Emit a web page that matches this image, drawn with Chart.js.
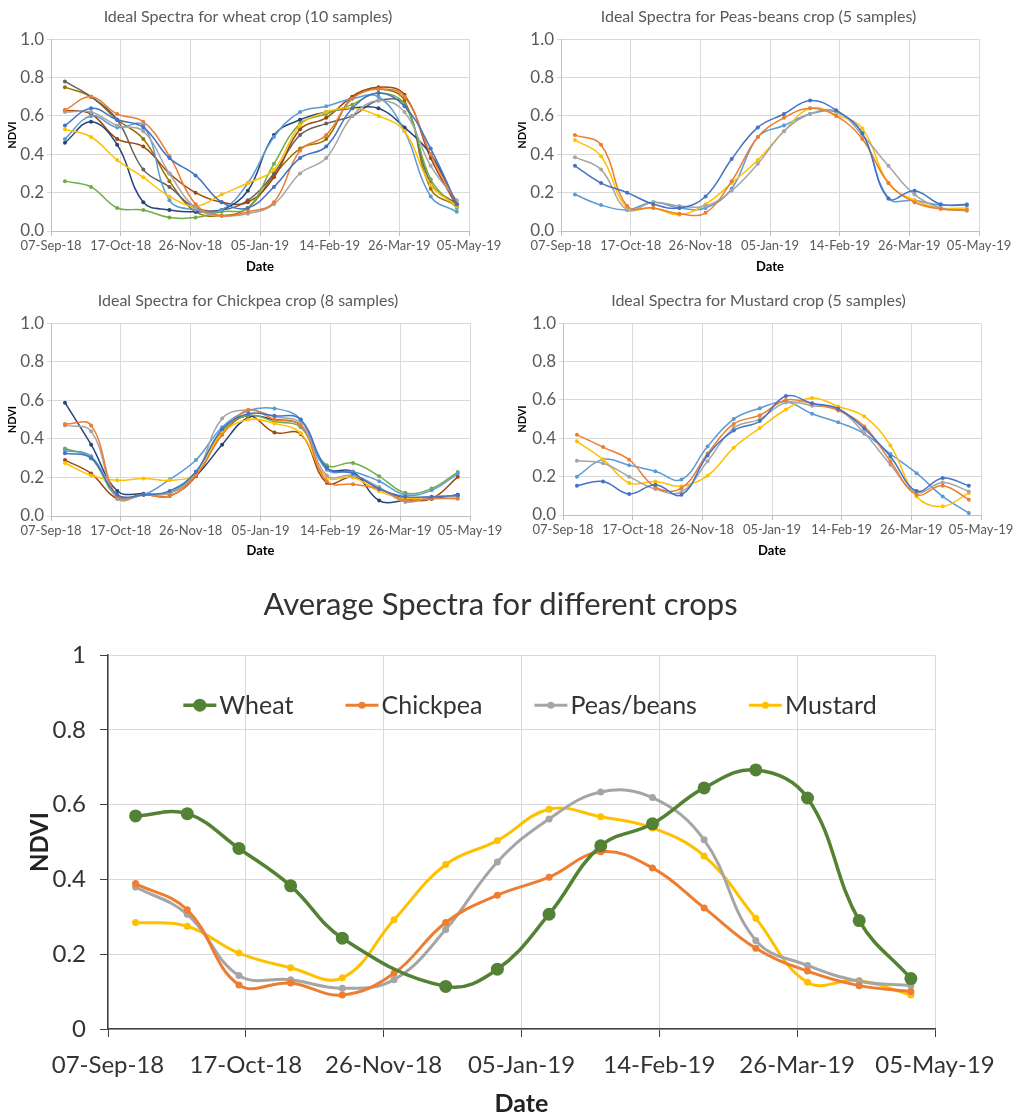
<!DOCTYPE html>
<html>
<head>
<meta charset="utf-8">
<script src="https://cdn.jsdelivr.net/npm/chart.js@4.4.1/dist/chart.umd.min.js"></script>
<style>
  body { margin: 0; background: #fff; width: 1021px; height: 1119px; position: relative; overflow: hidden; }
  .box { position: absolute; }
</style>
</head>
<body>
<div class="box" style="left:0;top:0"><canvas id="wheatChart" width="510" height="280"></canvas></div>
<div class="box" style="left:510px;top:0"><canvas id="peasChart" width="511" height="280"></canvas></div>
<div class="box" style="left:0;top:280px"><canvas id="chickpeaChart" width="510" height="280"></canvas></div>
<div class="box" style="left:510px;top:280px"><canvas id="mustardChart" width="511" height="280"></canvas></div>
<div class="box" style="left:0;top:580px"><canvas id="avgChart" width="1021" height="539"></canvas></div>
<script>
// acquisition dates (15-day revisit)
const sampleDates = ['2018-09-15', '2018-09-30', '2018-10-15', '2018-10-30', '2018-11-14', '2018-11-29',
  '2018-12-14', '2018-12-29', '2019-01-13', '2019-01-28', '2019-02-12', '2019-02-27',
  '2019-03-14', '2019-03-29', '2019-04-13', '2019-04-28'];
const startDate = '2018-09-07';
const tickLabels = ['07-Sep-18', '17-Oct-18', '26-Nov-18', '05-Jan-19', '14-Feb-19', '26-Mar-19', '05-May-19'];
const sampleColors = ['#4472C4', '#ED7D31', '#A5A5A5', '#FFC000', '#5B9BD5', '#70AD47', '#264478', '#9E480E', '#636363', '#997300'];

const wheatSamples = [
  [0.55, 0.64, 0.58, 0.54, 0.38, 0.29, 0.15, 0.12, 0.23, 0.38, 0.44, 0.64, 0.72, 0.65, 0.43, 0.14],
  [0.63, 0.70, 0.61, 0.57, 0.39, 0.14, 0.08, 0.10, 0.15, 0.42, 0.50, 0.69, 0.74, 0.70, 0.40, 0.14],
  [0.62, 0.62, 0.55, 0.52, 0.30, 0.12, 0.08, 0.09, 0.14, 0.30, 0.38, 0.60, 0.68, 0.62, 0.34, 0.16],
  [0.53, 0.49, 0.37, 0.28, 0.18, 0.13, 0.19, 0.25, 0.32, 0.55, 0.62, 0.64, 0.60, 0.52, 0.24, 0.13],
  [0.48, 0.60, 0.54, 0.55, 0.16, 0.11, 0.11, 0.25, 0.49, 0.62, 0.65, 0.69, 0.70, 0.52, 0.18, 0.10],
  [0.26, 0.23, 0.12, 0.11, 0.07, 0.07, 0.10, 0.12, 0.35, 0.56, 0.61, 0.66, 0.72, 0.66, 0.27, 0.12],
  [0.46, 0.57, 0.45, 0.15, 0.11, 0.10, 0.11, 0.21, 0.50, 0.58, 0.62, 0.64, 0.64, 0.54, 0.40, 0.14],
  [0.63, 0.61, 0.48, 0.44, 0.30, 0.20, 0.15, 0.15, 0.28, 0.53, 0.59, 0.70, 0.75, 0.71, 0.38, 0.13],
  [0.78, 0.70, 0.58, 0.32, 0.23, 0.12, 0.11, 0.16, 0.30, 0.50, 0.56, 0.60, 0.68, 0.66, 0.25, 0.14],
  [0.75, 0.70, 0.58, 0.48, 0.26, 0.10, 0.08, 0.12, 0.29, 0.43, 0.48, 0.70, 0.74, 0.68, 0.22, 0.13]
];
const peasSamples = [
  [0.34, 0.25, 0.20, 0.14, 0.12, 0.18, 0.375, 0.54, 0.61, 0.68, 0.63, 0.51, 0.17, 0.21, 0.14, 0.135],
  [0.50, 0.45, 0.13, 0.12, 0.09, 0.095, 0.26, 0.49, 0.59, 0.64, 0.60, 0.48, 0.25, 0.15, 0.115, 0.11],
  [0.385, 0.32, 0.11, 0.15, 0.13, 0.13, 0.21, 0.35, 0.52, 0.61, 0.625, 0.50, 0.34, 0.19, 0.12, 0.105],
  [0.475, 0.39, 0.12, 0.12, 0.085, 0.14, 0.25, 0.37, 0.52, 0.64, 0.605, 0.535, 0.25, 0.16, 0.12, 0.12],
  [0.19, 0.135, 0.11, 0.15, 0.12, 0.12, 0.22, 0.49, 0.55, 0.61, 0.62, 0.51, 0.17, 0.16, 0.135, 0.14]
];
const chickpeaSamples = [
  [0.325, 0.30, 0.11, 0.11, 0.13, 0.23, 0.45, 0.53, 0.52, 0.50, 0.25, 0.22, 0.14, 0.10, 0.10, 0.107],
  [0.477, 0.47, 0.10, 0.11, 0.104, 0.21, 0.42, 0.55, 0.50, 0.47, 0.18, 0.165, 0.14, 0.08, 0.09, 0.09],
  [0.47, 0.44, 0.09, 0.11, 0.12, 0.22, 0.506, 0.55, 0.515, 0.48, 0.21, 0.21, 0.15, 0.073, 0.10, 0.10],
  [0.275, 0.21, 0.185, 0.195, 0.185, 0.22, 0.43, 0.50, 0.48, 0.43, 0.20, 0.20, 0.128, 0.09, 0.10, 0.10],
  [0.34, 0.31, 0.105, 0.11, 0.19, 0.29, 0.46, 0.546, 0.558, 0.50, 0.24, 0.23, 0.18, 0.11, 0.133, 0.22],
  [0.35, 0.30, 0.10, 0.11, 0.12, 0.23, 0.44, 0.523, 0.49, 0.46, 0.263, 0.275, 0.206, 0.12, 0.142, 0.228],
  [0.588, 0.37, 0.13, 0.116, 0.12, 0.208, 0.37, 0.511, 0.50, 0.47, 0.246, 0.23, 0.08, 0.08, 0.09, 0.11],
  [0.29, 0.22, 0.09, 0.11, 0.104, 0.206, 0.425, 0.52, 0.433, 0.425, 0.172, 0.203, 0.142, 0.09, 0.09, 0.203]
];
const mustardSamples = [
  [0.153, 0.175, 0.11, 0.158, 0.105, 0.31, 0.44, 0.49, 0.62, 0.583, 0.554, 0.45, 0.305, 0.125, 0.193, 0.153],
  [0.418, 0.354, 0.288, 0.146, 0.14, 0.32, 0.475, 0.52, 0.60, 0.58, 0.545, 0.462, 0.28, 0.106, 0.153, 0.08],
  [0.283, 0.27, 0.20, 0.135, 0.12, 0.28, 0.453, 0.50, 0.587, 0.57, 0.55, 0.427, 0.262, 0.118, 0.17, 0.123],
  [0.384, 0.29, 0.167, 0.175, 0.15, 0.205, 0.35, 0.453, 0.55, 0.61, 0.566, 0.514, 0.363, 0.097, 0.045, 0.115],
  [0.20, 0.29, 0.26, 0.228, 0.185, 0.357, 0.50, 0.557, 0.59, 0.528, 0.483, 0.424, 0.318, 0.218, 0.097, 0.01]
];

// average spectra (wheat has no value on 29-Nov)
const avgLabels = ['Wheat', 'Chickpea', 'Peas/beans', 'Mustard'];
const avgColors = ['#548235', '#ED7D31', '#A5A5A5', '#FFC000'];
const avgWheat = [0.57, 0.576, 0.483, 0.383, 0.243, null, 0.114, 0.16, 0.307, 0.49, 0.549, 0.645, 0.693, 0.618, 0.29, 0.135];
const avgChickpea = [0.389, 0.319, 0.118, 0.123, 0.091, 0.149, 0.285, 0.358, 0.406, 0.474, 0.431, 0.324, 0.216, 0.155, 0.116, 0.10];
const avgPeas = [0.38, 0.307, 0.143, 0.132, 0.109, 0.132, 0.266, 0.447, 0.562, 0.634, 0.619, 0.506, 0.237, 0.17, 0.128, 0.116];
const avgMustard = [0.285, 0.275, 0.203, 0.164, 0.137, 0.292, 0.44, 0.504, 0.588, 0.568, 0.538, 0.463, 0.296, 0.125, 0.13, 0.091];

Chart.defaults.font.family = 'Lato';

const days = sampleDates.map(d => (Date.parse(d) - Date.parse(startDate)) / 86400000);
const toPoints = vals => vals.map((v, i) => ({ x: days[i], y: v }));

// empty axis on the right, only used to reserve space so titles centre like Excel
const spacerAxis = width => ({
  position: 'right', display: true,
  ticks: { display: false }, grid: { display: false }, border: { display: false },
  afterFit: s => { s.width = width; }
});

function smallChart(id, title, samples, box) {
  const datasets = samples.map((vals, i) => ({
    label: 'Sample ' + (i + 1),
    data: toPoints(vals),
    borderColor: sampleColors[i],
    backgroundColor: sampleColors[i],
    borderWidth: 1.5,
    pointRadius: 2,
    pointBorderWidth: 0,
    tension: 0.4
  }));
  return new Chart(document.getElementById(id), {
    type: 'line',
    data: { datasets: datasets },
    options: {
      responsive: false,
      animation: false,
      layout: { padding: { right: 14 } },
      plugins: {
        legend: { display: false },
        tooltip: { enabled: false },
        title: {
          display: true, text: title, color: '#595959',
          font: { size: 16, weight: 'normal' },
          padding: { top: box.titleTop, bottom: box.titleBottom }
        }
      },
      scales: {
        x: {
          type: 'linear', min: 0, max: 240,
          ticks: { stepSize: 40, autoSkip: false, maxRotation: 0, padding: 2, color: '#595959', font: { size: 13 },
            callback: v => tickLabels[Math.round(v / 40)] },
          grid: { color: '#d9d9d9', tickColor: '#bfbfbf', tickLength: 5 },
          border: { color: '#bfbfbf' },
          title: { display: true, text: 'Date', color: '#000', font: { size: 13, weight: 'bold' }, padding: { top: 0, bottom: box.dateBottom } },
          afterFit: s => { s.height = box.xHeight; }
        },
        y: {
          min: 0, max: 1,
          ticks: { stepSize: 0.2, padding: 3, color: '#595959', font: { size: 17 }, callback: v => v.toFixed(1) },
          grid: { color: '#d9d9d9', tickColor: '#d9d9d9', tickLength: 4 },
          border: { color: '#bfbfbf' },
          title: { display: true, text: 'NDVI', color: '#000', font: { size: 11, weight: 'bold' }, padding: { top: 6, bottom: 0 } },
          afterFit: s => { s.width = box.yWidth; }
        },
        spacer: spacerAxis(box.spacer)
      }
    }
  });
}

smallChart('wheatChart', 'Ideal Spectra for wheat crop (10 samples)', wheatSamples,
  { yWidth: 51, xHeight: 49, spacer: 27, titleTop: 7, titleBottom: 13, dateBottom: 5 });
smallChart('peasChart', 'Ideal Spectra for Peas-beans crop (5 samples)', peasSamples,
  { yWidth: 51, xHeight: 49, spacer: 28, titleTop: 7, titleBottom: 13, dateBottom: 5 });
smallChart('chickpeaChart', 'Ideal Spectra for Chickpea crop (8 samples)', chickpeaSamples,
  { yWidth: 51, xHeight: 44, spacer: 26, titleTop: 11, titleBottom: 13, dateBottom: 1 });
smallChart('mustardChart', 'Ideal Spectra for Mustard crop (5 samples)', mustardSamples,
  { yWidth: 53, xHeight: 45, spacer: 26, titleTop: 11, titleBottom: 13, dateBottom: 1 });

// Excel style legend: short line with marker, then label
const lineLegend = {
  id: 'lineLegend',
  afterDatasetsDraw(chart, args, opts) {
    const ctx = chart.ctx;
    ctx.save();
    ctx.font = opts.font;
    const items = chart.data.datasets.map(ds => ({ ds: ds, w: ctx.measureText(ds.label).width }));
    const total = items.reduce((s, it) => s + opts.lineLen + opts.textGap + it.w, 0) + opts.itemGap * (items.length - 1);
    let x = opts.centerX - total / 2;
    const y = chart.chartArea.top + opts.offsetY;
    items.forEach(it => {
      ctx.strokeStyle = it.ds.borderColor;
      ctx.lineWidth = it.ds.borderWidth;
      ctx.beginPath();
      ctx.moveTo(x, y);
      ctx.lineTo(x + opts.lineLen, y);
      ctx.stroke();
      ctx.fillStyle = it.ds.backgroundColor;
      ctx.beginPath();
      ctx.arc(x + opts.lineLen / 2, y, it.ds.pointRadius, 0, Math.PI * 2);
      ctx.fill();
      ctx.fillStyle = opts.color;
      ctx.textBaseline = 'middle';
      ctx.fillText(it.ds.label, x + opts.lineLen + opts.textGap, y + 1);
      x += opts.lineLen + opts.textGap + it.w + opts.itemGap;
    });
    ctx.restore();
  }
};

const avgSeries = [avgWheat, avgChickpea, avgPeas, avgMustard];
new Chart(document.getElementById('avgChart'), {
  type: 'line',
  data: {
    datasets: avgSeries.map((vals, i) => ({
      label: avgLabels[i],
      data: toPoints(vals),
      borderColor: avgColors[i],
      backgroundColor: avgColors[i],
      borderWidth: i === 0 ? 3.5 : 3,
      pointRadius: i === 0 ? 6.5 : 3.5,
      pointBorderWidth: 0,
      spanGaps: true,
      tension: 0.4
    }))
  },
  options: {
    responsive: false,
    animation: false,
    layout: { padding: { right: 20 } },
    plugins: {
      legend: { display: false },
      tooltip: { enabled: false },
      title: {
        display: true, text: 'Average Spectra for different crops', color: '#333',
        font: { size: 31, weight: 'normal' }, padding: { top: 6, bottom: 32 }
      },
      lineLegend: { font: '25px Lato', color: '#333', lineLen: 33, textGap: 3, itemGap: 52, centerX: 530, offsetY: 50 }
    },
    scales: {
      x: {
        type: 'linear', min: 0, max: 240,
        ticks: { stepSize: 40, autoSkip: false, maxRotation: 0, padding: 14, color: '#333', font: { size: 24 },
          callback: v => tickLabels[Math.round(v / 40)] },
        grid: { color: '#d9d9d9', tickColor: '#404040', tickLength: 8 },
        border: { color: '#404040', width: 1.5 },
        title: { display: true, text: 'Date', color: '#222', font: { size: 25, weight: 'bold' }, padding: { top: 0, bottom: 0 } },
        afterFit: s => { s.height = 90; }
      },
      y: {
        min: 0, max: 1,
        ticks: { stepSize: 0.2, padding: 14, color: '#333', font: { size: 24 },
          callback: v => String(Math.round(v * 10) / 10) },
        grid: { color: '#d9d9d9', tickColor: '#404040', tickLength: 8 },
        border: { color: '#404040', width: 1.5 },
        title: { display: true, text: 'NDVI', color: '#222', font: { size: 24, weight: 'bold' }, padding: { top: 26, bottom: 0 } },
        afterFit: s => { s.width = 108; }
      },
      spacer: spacerAxis(66)
    }
  },
  plugins: [lineLegend]
});
</script>
</body>
</html>
